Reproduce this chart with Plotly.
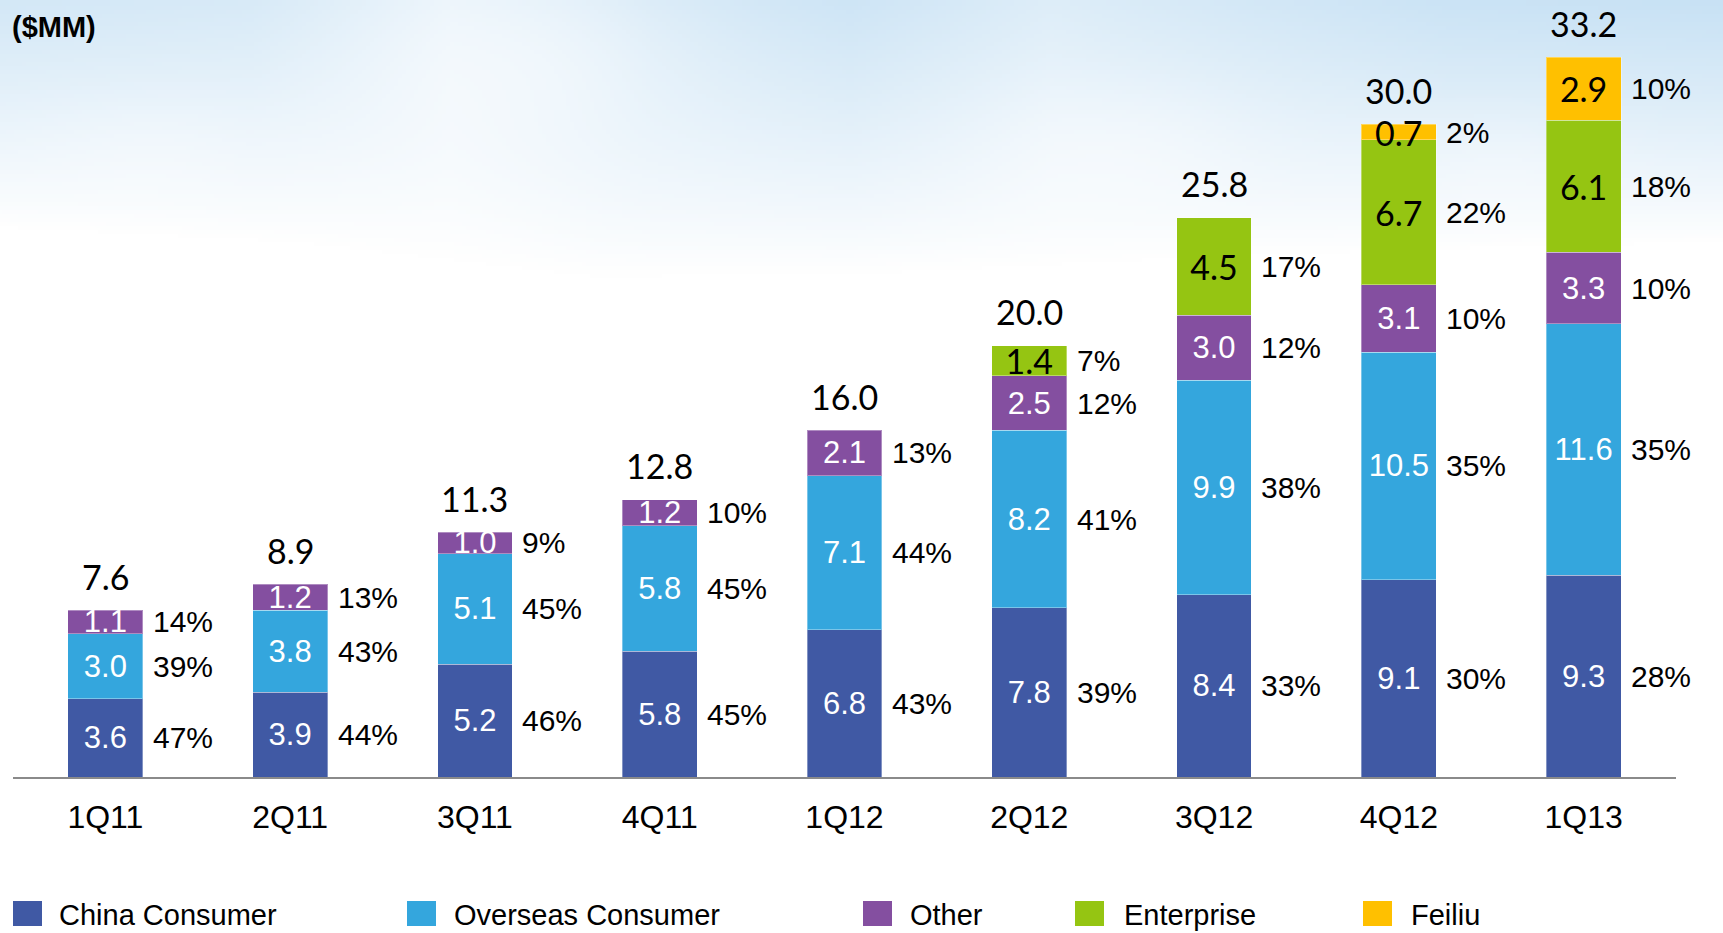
import base64
import struct
import zlib

import numpy as np
import plotly.graph_objects as go

# ---------------------------------------------------------------- data ----
quarters = ["1Q11", "2Q11", "3Q11", "4Q11", "1Q12", "2Q12", "3Q12", "4Q12", "1Q13"]

china_consumer = [3.6, 3.9, 5.2, 5.8, 6.8, 7.8, 8.4, 9.1, 9.3]
overseas_consumer = [3.0, 3.8, 5.1, 5.8, 7.1, 8.2, 9.9, 10.5, 11.6]
other = [1.1, 1.2, 1.0, 1.2, 2.1, 2.5, 3.0, 3.1, 3.3]
enterprise = [None, None, None, None, None, 1.4, 4.5, 6.7, 6.1]
feiliu = [None, None, None, None, None, None, None, 0.7, 2.9]

totals = [7.6, 8.9, 11.3, 12.8, 16.0, 20.0, 25.8, 30.0, 33.2]

pct_china = [47, 44, 46, 45, 43, 39, 33, 30, 28]
pct_overseas = [39, 43, 45, 45, 44, 41, 38, 35, 35]
pct_other = [14, 13, 9, 10, 13, 12, 12, 10, 10]
pct_enterprise = [None, None, None, None, None, 7, 17, 22, 18]
pct_feiliu = [None, None, None, None, None, None, None, 2, 10]

series_names = ["China Consumer", "Overseas Consumer", "Other", "Enterprise", "Feiliu"]
series_values = [china_consumer, overseas_consumer, other, enterprise, feiliu]
series_pcts = [pct_china, pct_overseas, pct_other, pct_enterprise, pct_feiliu]
series_colors = ["#4059A4", "#34A6DD", "#844FA0", "#95C512", "#FFC000"]
label_colors = ["white", "white", "white", "black", "black"]

# -------------------------------------------------------------- layout ----
PAGE_W, PAGE_H = 1723, 933
M_L, M_R, M_T, M_B = 13, 47, 0, 156
PLOT_W = PAGE_W - M_L - M_R
PLOT_H = PAGE_H - M_T - M_B
PX_PER_UNIT = 21.68
Y_MAX = PLOT_H / PX_PER_UNIT
BAR_W = 0.405
PX_PER_CAT = PLOT_W / len(quarters)

SANS = "Liberation Sans, Arial, sans-serif"
HUMANIST = "Lato, Open Sans, sans-serif"


def paper_x(px):
    return (px - M_L) / PLOT_W


def paper_y(py):
    return (PAGE_H - M_B - py) / PLOT_H


def png_data_uri(rgb):
    """Encode an (h, w, 3) uint8 array as a PNG data URI."""
    h, w, _ = rgb.shape
    raw = b"".join(b"\x00" + rgb[r].tobytes() for r in range(h))

    def chunk(tag, data):
        body = tag + data
        return struct.pack(">I", len(data)) + body + struct.pack(">I", zlib.crc32(body) & 0xFFFFFFFF)

    png = b"\x89PNG\r\n\x1a\n"
    png += chunk(b"IHDR", struct.pack(">IIBBBBB", w, h, 8, 2, 0, 0, 0))
    png += chunk(b"IDAT", zlib.compress(raw, 9))
    png += chunk(b"IEND", b"")
    return "data:image/png;base64," + base64.b64encode(png).decode()


# soft sky wash across the top of the slide
SKY_H = 300
STEP = 4
xs = (np.arange(PAGE_W // STEP + 1) + 0.5) * STEP
ys = (np.arange(SKY_H // STEP) + 0.5) * STEP
X, Y = np.meshgrid(xs, ys)
edge = np.interp(X, [0, 300, 600, 900, 1200, 1500, 1723], [225, 240, 275, 270, 255, 245, 240])
fade = np.clip(1 - Y / edge, 0, 1) ** 0.9
strength = np.interp(X, [0, 250, 450, 650, 850, 1050, 1250, 1450, 1723],
                     [0.55, 0.50, 0.28, 0.50, 0.62, 0.42, 0.55, 0.66, 0.70])
puff = 0.40 * np.exp(-(((X - 520) / 160) ** 2 + ((Y - 60) / 90) ** 2)) \
    + 0.35 * np.exp(-(((X - 1120) / 140) ** 2 + ((Y - 150) / 70) ** 2)) \
    + 0.30 * np.exp(-(((X - 1500) / 120) ** 2 + ((Y - 170) / 60) ** 2)) \
    + 0.25 * np.exp(-(((X - 150) / 120) ** 2 + ((Y - 150) / 60) ** 2))
alpha = np.clip(fade * strength * (1 - puff), 0, 1)
sky = np.array([176, 213, 240])
img = (255 - alpha[..., None] * (255 - sky)).astype(np.uint8)
sky_uri = png_data_uri(img)

# ---------------------------------------------------------------- bars ----
fig = go.Figure()
for name, vals, color, lcolor in zip(series_names, series_values, series_colors, label_colors):
    fig.add_trace(go.Bar(
        x=quarters,
        y=vals,
        name=name,
        width=BAR_W,
        marker=dict(color=color, line=dict(color="rgba(255,255,255,0.35)", width=1)),
        text=[f"{v:.1f}" if v is not None else "" for v in vals],
        textposition="inside",
        insidetextanchor="middle",
        constraintext="none",
        textangle=0,
        textfont=dict(family=SANS if lcolor == "white" else HUMANIST,
                      size=31 if lcolor == "white" else 34, color=lcolor),
        showlegend=False,
        hoverinfo="skip",
    ))

annotations = []

# share of each segment, right of the bar
base = [0.0] * len(quarters)
for vals, pcts in zip(series_values, series_pcts):
    for i, (v, p) in enumerate(zip(vals, pcts)):
        if v is None:
            continue
        mid = base[i] + v / 2
        base[i] += v
        annotations.append(dict(
            x=quarters[i], y=mid, xref="x", yref="y",
            text=f"{p}%", showarrow=False,
            xanchor="left", yanchor="middle",
            xshift=BAR_W / 2 * PX_PER_CAT + 8,
            font=dict(family=SANS, size=30, color="black"),
        ))

# quarterly totals above each stack
for i, t in enumerate(totals):
    annotations.append(dict(
        x=quarters[i], y=base[i], xref="x", yref="y",
        text=f"{t:.1f}", showarrow=False,
        xanchor="center", yanchor="middle", yshift=34,
        font=dict(family=HUMANIST, size=34, color="black"),
    ))

# unit caption
annotations.append(dict(
    x=paper_x(10), y=paper_y(27), xref="paper", yref="paper",
    text="<b>($MM)</b>", showarrow=False, xanchor="left", yanchor="middle",
    font=dict(family=SANS, size=29, color="black"),
))

# legend row
legend_sq_x = [13, 407, 863, 1075, 1363]
legend_txt_x = [57, 452, 908, 1122, 1409]
shapes = []
for name, color, sx, tx in zip(series_names, series_colors, legend_sq_x, legend_txt_x):
    shapes.append(dict(
        type="rect", xref="paper", yref="paper",
        x0=paper_x(sx), x1=paper_x(sx + 29),
        y0=paper_y(901), y1=paper_y(926),
        fillcolor=color, line=dict(width=0),
    ))
    annotations.append(dict(
        x=paper_x(tx), y=paper_y(915), xref="paper", yref="paper",
        text=name, showarrow=False, xanchor="left", yanchor="middle",
        font=dict(family=SANS, size=29, color="black"),
    ))

fig.update_layout(
    barmode="stack",
    width=PAGE_W, height=PAGE_H,
    margin=dict(l=M_L, r=M_R, t=M_T, b=M_B, pad=0),
    paper_bgcolor="white",
    plot_bgcolor="rgba(0,0,0,0)",
    showlegend=False,
    annotations=annotations,
    shapes=shapes,
    images=[dict(
        source=sky_uri, xref="paper", yref="paper",
        x=paper_x(0), y=paper_y(0),
        sizex=(xs[-1] + STEP / 2) / PLOT_W, sizey=SKY_H / PLOT_H,
        xanchor="left", yanchor="top", sizing="stretch", layer="below",
    )],
    xaxis=dict(
        type="category", range=[-0.5, len(quarters) - 0.5],
        showline=True, linecolor="#8a8a8a", linewidth=2,
        showgrid=False, zeroline=False, ticks="",
        tickfont=dict(family=SANS, size=32, color="black"),
        ticklabelstandoff=11,
    ),
    yaxis=dict(range=[0, Y_MAX], visible=False, showgrid=False, zeroline=False),
    font=dict(family=SANS),
)

fig.write_html("out.html")
